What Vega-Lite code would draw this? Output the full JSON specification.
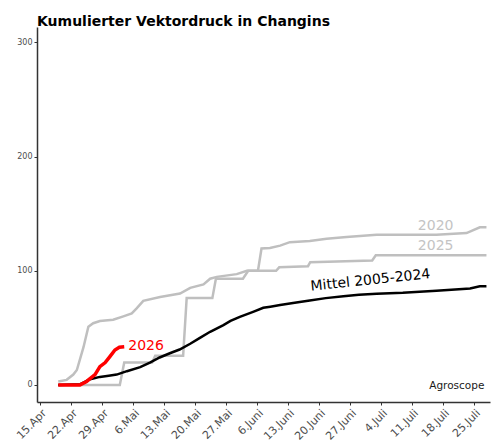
{
  "$schema": "https://vega.github.io/schema/vega-lite/v6.json",
  "autosize": "none",
  "width": 453,
  "height": 375,
  "padding": {"left": 37, "top": 27, "right": 9, "bottom": 43},
  "background": "white",
  "config": {
    "font": "DejaVu Sans",
    "view": {"stroke": null},
    "axis": {"grid": false, "domainColor": "#333333", "domainWidth": 1.5, "tickColor": "#333333", "tickSize": 3, "labelColor": "#4d4d4d", "title": null, "labelOverlap": false}
  },
  "title": {
    "text": "Kumulierter Vektordruck in Changins",
    "anchor": "start",
    "frame": "group",
    "fontSize": 14,
    "fontWeight": "bold",
    "color": "#000000",
    "baseline": "alphabetic",
    "offset": 3,
    "dy": 16
  },
  "datasets": {
    "lines": [
      {"series": "2020", "day": 4.1, "value": 3},
      {"series": "2020", "day": 6.0, "value": 4.4},
      {"series": "2020", "day": 7.5, "value": 9},
      {"series": "2020", "day": 8.3, "value": 13},
      {"series": "2020", "day": 9.8, "value": 33},
      {"series": "2020", "day": 10.9, "value": 51},
      {"series": "2020", "day": 12.0, "value": 54},
      {"series": "2020", "day": 13.5, "value": 56},
      {"series": "2020", "day": 16.5, "value": 57},
      {"series": "2020", "day": 18.8, "value": 60},
      {"series": "2020", "day": 20.7, "value": 62.6},
      {"series": "2020", "day": 21.8, "value": 67},
      {"series": "2020", "day": 23.3, "value": 73.6},
      {"series": "2020", "day": 27.1, "value": 77},
      {"series": "2020", "day": 31.6, "value": 80},
      {"series": "2020", "day": 33.9, "value": 85},
      {"series": "2020", "day": 36.9, "value": 88},
      {"series": "2020", "day": 38.4, "value": 93},
      {"series": "2020", "day": 39.9, "value": 94.6},
      {"series": "2020", "day": 44.4, "value": 97},
      {"series": "2020", "day": 46.7, "value": 100},
      {"series": "2020", "day": 49.2, "value": 100},
      {"series": "2020", "day": 50.0, "value": 119.5},
      {"series": "2020", "day": 51.9, "value": 120},
      {"series": "2020", "day": 54.2, "value": 122},
      {"series": "2020", "day": 56.4, "value": 125},
      {"series": "2020", "day": 60.9, "value": 126},
      {"series": "2020", "day": 64.7, "value": 128},
      {"series": "2020", "day": 69.2, "value": 129.5},
      {"series": "2020", "day": 76.0, "value": 131.5},
      {"series": "2020", "day": 89.5, "value": 131.5},
      {"series": "2020", "day": 96.3, "value": 133},
      {"series": "2020", "day": 99.3, "value": 138},
      {"series": "2020", "day": 100.8, "value": 138},
      {"series": "2025", "day": 4.1, "value": 0},
      {"series": "2025", "day": 18.0, "value": 0},
      {"series": "2025", "day": 19.0, "value": 19.5},
      {"series": "2025", "day": 25.3, "value": 19.5},
      {"series": "2025", "day": 26.0, "value": 25.5},
      {"series": "2025", "day": 32.3, "value": 25.5},
      {"series": "2025", "day": 33.1, "value": 76},
      {"series": "2025", "day": 38.9, "value": 76},
      {"series": "2025", "day": 39.7, "value": 93},
      {"series": "2025", "day": 45.8, "value": 93},
      {"series": "2025", "day": 47.0, "value": 100},
      {"series": "2025", "day": 53.3, "value": 100},
      {"series": "2025", "day": 54.0, "value": 103},
      {"series": "2025", "day": 60.5, "value": 104},
      {"series": "2025", "day": 61.0, "value": 107.5},
      {"series": "2025", "day": 75.0, "value": 109},
      {"series": "2025", "day": 75.8, "value": 113.5},
      {"series": "2025", "day": 100.8, "value": 113.5},
      {"series": "Mittel", "day": 4.1, "value": 0},
      {"series": "Mittel", "day": 9.0, "value": 0.5},
      {"series": "Mittel", "day": 11.3, "value": 5},
      {"series": "Mittel", "day": 13.5, "value": 7},
      {"series": "Mittel", "day": 15.5, "value": 8},
      {"series": "Mittel", "day": 17.3, "value": 9},
      {"series": "Mittel", "day": 19.6, "value": 12},
      {"series": "Mittel", "day": 22.6, "value": 15.5},
      {"series": "Mittel", "day": 24.8, "value": 19.5},
      {"series": "Mittel", "day": 27.0, "value": 24},
      {"series": "Mittel", "day": 29.3, "value": 27.7},
      {"series": "Mittel", "day": 31.5, "value": 31},
      {"series": "Mittel", "day": 33.9, "value": 36},
      {"series": "Mittel", "day": 36.0, "value": 41},
      {"series": "Mittel", "day": 38.4, "value": 46.5},
      {"series": "Mittel", "day": 41.4, "value": 52.4},
      {"series": "Mittel", "day": 43.0, "value": 56},
      {"series": "Mittel", "day": 45.1, "value": 59.6},
      {"series": "Mittel", "day": 48.1, "value": 64},
      {"series": "Mittel", "day": 50.4, "value": 67.5},
      {"series": "Mittel", "day": 52.0, "value": 68.5},
      {"series": "Mittel", "day": 54.2, "value": 70},
      {"series": "Mittel", "day": 57.5, "value": 72},
      {"series": "Mittel", "day": 60.9, "value": 74},
      {"series": "Mittel", "day": 64.5, "value": 76},
      {"series": "Mittel", "day": 68.5, "value": 77.7},
      {"series": "Mittel", "day": 72.0, "value": 79},
      {"series": "Mittel", "day": 76.0, "value": 79.8},
      {"series": "Mittel", "day": 81.9, "value": 80.6},
      {"series": "Mittel", "day": 89.5, "value": 82.4},
      {"series": "Mittel", "day": 97.1, "value": 84.4},
      {"series": "Mittel", "day": 99.3, "value": 86.3},
      {"series": "Mittel", "day": 100.8, "value": 86.5},
      {"series": "2026", "day": 4.1, "value": 0},
      {"series": "2026", "day": 9.0, "value": 0},
      {"series": "2026", "day": 10.5, "value": 3},
      {"series": "2026", "day": 12.4, "value": 9},
      {"series": "2026", "day": 13.5, "value": 16},
      {"series": "2026", "day": 14.7, "value": 19.5},
      {"series": "2026", "day": 15.8, "value": 25},
      {"series": "2026", "day": 16.9, "value": 30.6},
      {"series": "2026", "day": 17.9, "value": 33},
      {"series": "2026", "day": 19.0, "value": 33.4}
    ],
    "labels": [
      {"series": "2020", "label": "2020", "day": 85.3, "value": 139},
      {"series": "2025", "label": "2025", "day": 85.3, "value": 121.5},
      {"series": "2026", "label": "2026", "day": 19.9, "value": 34}
    ],
    "mittel": [
      {"label": "Mittel 2005-2024", "day": 74.6, "value": 91.5}
    ],
    "credit": [
      {"label": "Agroscope", "day": 94.1, "value": -1}
    ]
  },
  "encoding": {
    "x": {"field": "day", "type": "quantitative", "scale": {"domain": [-0.7, 101.6], "nice": false, "zero": false},
      "axis": {"values": [0, 7, 14, 21, 28, 35, 42, 49, 56, 63, 70, 77, 84, 91, 98], "labelOverlap": false, "labelSeparation": 0, "labelAngle": -45, "labelFontSize": 11, "labelAlign": "right", "labelBaseline": "top",
        "labelExpr": "['15.Apr','22.Apr','29.Apr','6.Mai','13.Mai','20.Mai','27.Mai','6.Juni','13.Juni','20.Juni','27.Juni','4.Juli','11.Juli','18.Juli','25.Juli'][round(datum.value/7)]"}},
    "y": {"field": "value", "type": "quantitative", "scale": {"domain": [-15, 313.5], "nice": false, "zero": false},
      "axis": {"values": [0, 100, 200, 300], "labelFontSize": 8, "labelPadding": 2}}
  },
  "layer": [
    {
      "data": {"name": "lines"},
      "transform": [{"filter": "datum.series == '2020' || datum.series == '2025'"}],
      "mark": {"type": "line", "strokeWidth": 2.5, "color": "#bfbfbf"},
      "encoding": {
        "detail": {"field": "series"}
      }
    },
    {
      "data": {"name": "lines"},
      "transform": [{"filter": "datum.series == 'Mittel'"}],
      "mark": {"type": "line", "strokeWidth": 2.5, "color": "#000000"},
      "encoding": {}
    },
    {
      "data": {"name": "lines"},
      "transform": [{"filter": "datum.series == '2026'"}],
      "mark": {"type": "line", "strokeWidth": 3.5, "color": "#ff0000"},
      "encoding": {}
    },
    {
      "data": {"name": "labels"},
      "mark": {"type": "text", "fontSize": 14, "align": "left", "baseline": "middle"},
      "encoding": {
        "text": {"field": "label"},
        "align": {"condition": {"test": "datum.series == '2026'", "value": "left"}, "value": "center"},
        "color": {"field": "series", "type": "nominal", "scale": {"domain": ["2020", "2025", "2026"], "range": ["#c4c4c4", "#c4c4c4", "#ff0000"]}, "legend": null}
      }
    },
    {
      "data": {"name": "mittel"},
      "mark": {"type": "text", "fontSize": 14, "align": "center", "baseline": "middle", "angle": 354, "color": "#000000"},
      "encoding": {
        "text": {"field": "label"}
      }
    },
    {
      "data": {"name": "credit"},
      "mark": {"type": "text", "fontSize": 10.5, "align": "center", "baseline": "middle", "color": "#1a1a1a"},
      "encoding": {
        "text": {"field": "label"}
      }
    }
  ]
}
